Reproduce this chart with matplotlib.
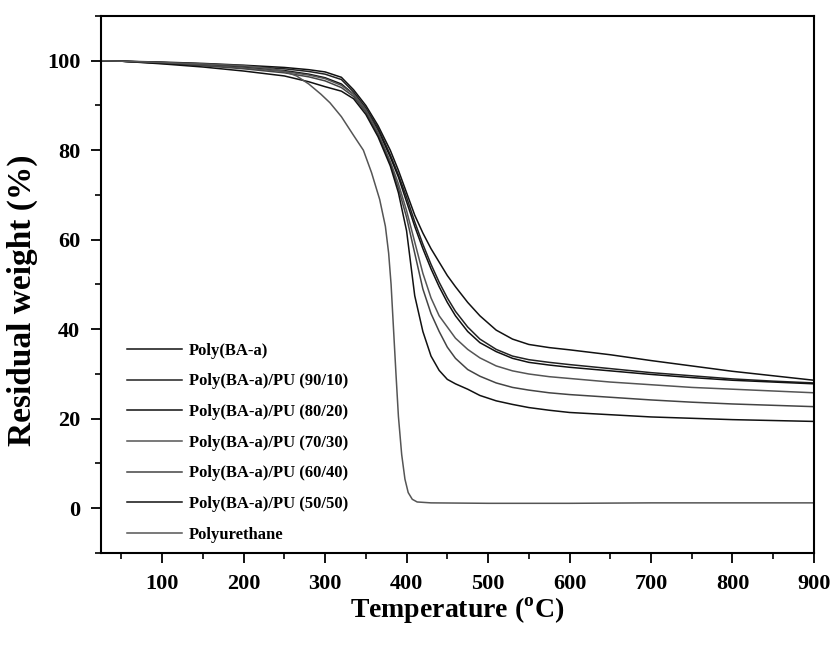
import matplotlib
matplotlib.use("Agg")
import matplotlib.pyplot as plt
from matplotlib.ticker import MultipleLocator

plt.rcParams['font.family'] = ['Liberation Serif', 'DejaVu Serif']
plt.rcParams['font.weight'] = 'bold'
plt.rcParams['mathtext.fontset'] = 'custom'
plt.rcParams['mathtext.rm'] = 'Liberation Serif:bold'
plt.rcParams['mathtext.bf'] = 'Liberation Serif:bold'

# TGA curves, temperature (C) vs residual weight (%)
temp_blend = [25, 50, 100, 150, 200, 250, 280, 300, 320, 335, 350, 365, 380, 390,
              400, 410, 420, 430, 440, 450, 460, 475, 490, 510, 530, 550, 575,
              600, 650, 700, 750, 800, 850, 900]

w_pba = [100.0, 99.9, 99.7, 99.4, 99.0, 98.5, 98.0, 97.5, 96.3, 93.5, 90.0, 85.5,
         80.0, 75.5, 70.5, 65.5, 61.5, 58.0, 55.0, 52.0, 49.5, 46.0, 43.0, 39.8,
         37.8, 36.6, 35.9, 35.4, 34.3, 33.0, 31.8, 30.6, 29.6, 28.6]
w_9010 = [100.0, 99.9, 99.6, 99.3, 98.8, 98.2, 97.6, 97.0, 95.8, 93.0, 89.5, 85.0,
          79.0, 74.5, 69.5, 64.0, 59.0, 54.5, 50.5, 47.0, 44.0, 40.5, 37.8, 35.5,
          34.0, 33.2, 32.6, 32.1, 31.2, 30.3, 29.6, 28.9, 28.4, 28.0]
w_8020 = [100.0, 99.9, 99.5, 99.1, 98.5, 97.8, 97.0, 96.2, 94.8, 92.5, 89.0, 84.5,
          78.5, 74.0, 68.5, 63.0, 58.0, 53.5, 49.5, 46.0, 43.0, 39.5, 37.0, 35.0,
          33.5, 32.6, 32.0, 31.5, 30.7, 29.9, 29.2, 28.6, 28.2, 27.8]
w_7030 = [100.0, 99.9, 99.5, 99.0, 98.4, 97.6, 96.8, 96.0, 94.5, 92.5, 89.0, 84.0,
          77.5, 72.5, 66.5, 59.5, 52.5, 47.0, 43.0, 40.5, 38.0, 35.5, 33.6, 31.8,
          30.7, 30.0, 29.4, 29.0, 28.2, 27.6, 27.0, 26.6, 26.2, 25.8]
w_6040 = [100.0, 99.9, 99.4, 98.9, 98.2, 97.3, 96.4, 95.5, 94.0, 92.0, 88.5, 83.5,
          77.0, 71.5, 65.0, 57.0, 49.0, 43.5, 39.5, 36.0, 33.5, 31.0, 29.5, 28.0,
          27.0, 26.4, 25.8, 25.4, 24.8, 24.2, 23.7, 23.3, 23.0, 22.7]
w_5050 = [100.0, 99.9, 99.3, 98.6, 97.7, 96.6, 95.3, 94.2, 93.2, 91.5, 88.0, 83.0,
          76.5, 70.5, 62.0, 47.5, 39.5, 34.0, 30.8, 28.8, 27.8, 26.6, 25.2, 24.0,
          23.2, 22.5, 21.9, 21.4, 20.9, 20.4, 20.1, 19.8, 19.6, 19.4]

temp_pu = [25, 50, 100, 150, 200, 230, 250, 265, 280, 295, 306, 320, 335, 347, 357,
           367, 374, 378, 381, 384, 387, 390, 394, 398, 402, 407, 413, 430, 500,
           600, 700, 800, 900]
w_pu = [100.0, 99.9, 99.6, 99.3, 98.9, 98.3, 97.6, 96.6, 94.8, 92.5, 90.6, 87.5,
        83.3, 80.0, 75.0, 69.0, 63.0, 57.0, 50.0, 40.0, 30.0, 20.5, 12.0, 6.5,
        3.5, 2.0, 1.4, 1.2, 1.1, 1.1, 1.2, 1.2, 1.2]

labels = ['Poly(BA-a)', 'Poly(BA-a)/PU (90/10)', 'Poly(BA-a)/PU (80/20)',
          'Poly(BA-a)/PU (70/30)', 'Poly(BA-a)/PU (60/40)',
          'Poly(BA-a)/PU (50/50)', 'Polyurethane']

fig = plt.figure(figsize=(8.3, 6.47), dpi=100)
ax = fig.add_axes([0.1217, 0.1453, 0.859, 0.83])

blends = [w_pba, w_9010, w_8020, w_7030, w_6040, w_5050]
colors = ['#111111', '#222222', '#111111', '#555555', '#444444', '#111111']
for w, lab, c in zip(blends, labels[:6], colors):
    ax.plot(temp_blend, w, color=c, lw=1.1, label=lab)
ax.plot(temp_pu, w_pu, color='#555555', lw=1.1, label=labels[6])

ax.set_xlim(25, 900)
ax.set_ylim(-10, 110)
ax.xaxis.set_minor_locator(MultipleLocator(50))
ax.yaxis.set_minor_locator(MultipleLocator(10))
ax.set_xticks([100, 200, 300, 400, 500, 600, 700, 800, 900])
ax.set_yticks([0, 20, 40, 60, 80, 100])

ax.tick_params(which='major', direction='out', length=7, width=1.3,
               labelsize=16, top=False, right=False, pad=8)
ax.tick_params(which='minor', direction='out', length=4, width=1.2,
               top=False, right=False)
for s in ax.spines.values():
    s.set_linewidth(1.5)

ax.set_xlabel('Temperature ($^{\\mathrm{o}}$C)', fontsize=20, fontweight='bold')
ax.set_ylabel('Residual weight (%)', fontsize=24, fontweight='bold')
ax.xaxis.set_label_coords(0.5, -0.08)
ax.yaxis.set_label_coords(-0.088, 0.47)

leg = ax.legend(loc='lower left', bbox_to_anchor=(0.013, -0.012), frameon=False,
                fontsize=12, handlelength=3.3, handletextpad=0.4,
                labelspacing=0.88, borderaxespad=0.6)

fig.savefig('out.png', dpi=100)
